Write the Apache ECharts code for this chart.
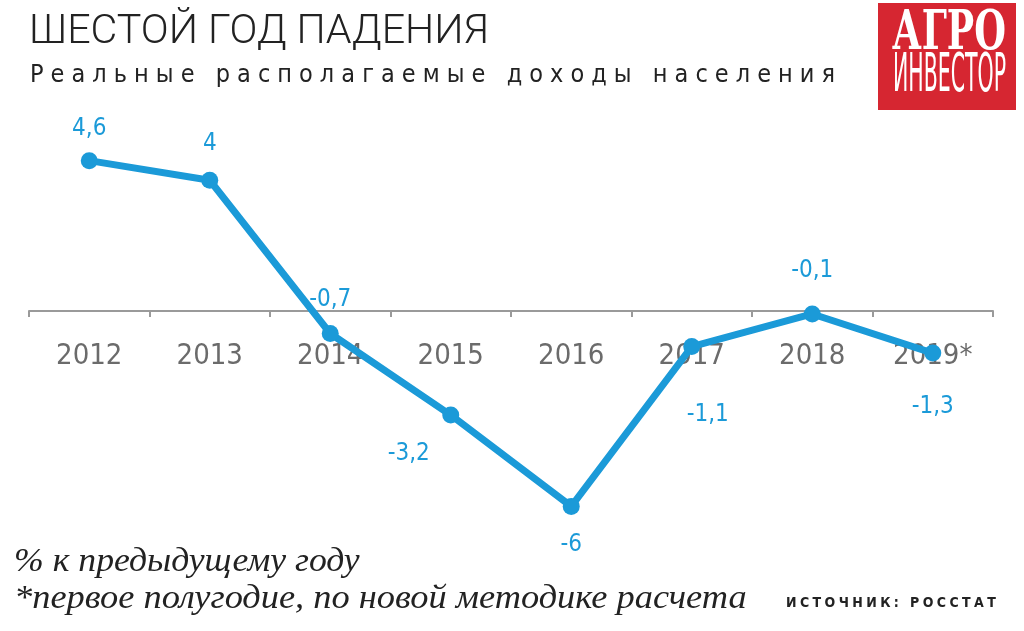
<!DOCTYPE html>
<html>
<head>
<meta charset="utf-8">
<script src="https://cdn.jsdelivr.net/npm/echarts@6/dist/echarts.min.js"></script>
<style>
  html, body { margin: 0; padding: 0; background: #fff; }
  #wrap { position: relative; width: 1024px; height: 631px; }
  #chart { width: 1024px; height: 631px; }
  .sub { position: absolute; left: 30px; top: 59px; font: 25px "DejaVu Sans Condensed", sans-serif; letter-spacing: 7.05px; color: #222; white-space: nowrap; }
  .src { position: absolute; left: 786px; top: 594px; font: bold 14px "DejaVu Sans Condensed", sans-serif; letter-spacing: 3.4px; color: #222; white-space: nowrap; }
</style>
</head>
<body>
<div id="wrap">
  <div id="chart"></div>
  <div class="sub">Реальные располагаемые доходы населения</div>
  <div class="src">ИСТОЧНИК: РОССТАТ</div>
</div>
<script>
// годы
var years = ['2012', '2013', '2014', '2015', '2016', '2017', '2018', '2019*'];
// реальные располагаемые доходы, % к предыдущему году
var incomes = [4.6, 4, -0.7, -3.2, -6, -1.1, -0.1, -1.3];

var blue = '#1b9ad8';
var condensed = '"DejaVu Sans Condensed", sans-serif';

// где стоит подпись у каждой точки
var labelSpots = [
    ['top', [0, -6]],
    ['top', [0, -11]],
    ['top', [0, -8]],
    ['bottom', [-42, 13]],
    ['bottom', [0, 13]],
    ['bottom', [16, 43]],
    ['top', [0, -18]],
    ['bottom', [0, 28]]
];

var points = incomes.map(function (v, i) {
    return {
        value: v,
        label: {position: labelSpots[i][0], offset: labelSpots[i][1]}
    };
});

var Chart = echarts.init(document.getElementById('chart'));
Chart.setOption({
    animation: false,
    grid: {
        left: 29,
        right: 31,
        top: 115,
        bottom: 92
    },
    xAxis: {
        type: 'category',
        data: years,
        boundaryGap: true,
        offset: -228,
        axisLine: {onZero: false, lineStyle: {color: '#9a9a9a', width: 2}},
        axisTick: {show: true, length: 6, lineStyle: {color: '#9a9a9a', width: 2}},
        axisLabel: {
            margin: 31,
            fontFamily: condensed,
            fontSize: 29,
            color: '#6b6b6b'
        },
        z: 1
    },
    yAxis: {
        type: 'value',
        min: -7,
        max: 6,
        show: false,
        splitLine: {show: false}
    },
    series: [
        {
            type: 'line',
            data: points,
            z: 5,
            symbol: 'circle',
            symbolSize: 17,
            lineStyle: {color: blue, width: 7},
            itemStyle: {color: blue},
            label: {
                show: true,
                fontFamily: condensed,
                fontSize: 24,
                color: blue,
                formatter: function (p) {
                    return String(p.value).replace('.', ',');
                }
            }
        }
    ],
    graphic: [
        // заголовок
        {
            type: 'text',
            x: 29,
            y: 13,
            scaleX: 1.03,
            style: {
                text: 'ШЕСТОЙ ГОД ПАДЕНИЯ',
                fill: '#222',
                font: '300 40px Roboto, sans-serif'
            }
        },
        // логотип
        {
            type: 'rect',
            left: 878,
            top: 3,
            shape: {width: 138, height: 107},
            style: {fill: '#d62631'}
        },
        {
            type: 'text',
            x: 892,
            y: 8,
            scaleX: 0.75,
            style: {
                text: 'АГРО',
                fill: '#fff',
                font: 'bold 54px "DejaVu Serif Condensed", "DejaVu Serif", serif'
            }
        },
        {
            type: 'text',
            x: 893,
            y: 51,
            scaleX: 0.43,
            style: {
                text: 'ИНВЕСТОР',
                fill: '#fff',
                font: '53px ' + condensed
            }
        },
        // сноски
        {
            type: 'text',
            x: 14,
            y: 545,
            scaleX: 1.05,
            style: {
                text: '% к предыдущему году',
                fill: '#222',
                font: 'italic 34px "Liberation Serif", "DejaVu Serif", serif'
            }
        },
        {
            type: 'text',
            x: 14,
            y: 582,
            scaleX: 1.07,
            style: {
                text: '*первое полугодие, по новой методике расчета',
                fill: '#222',
                font: 'italic 34px "Liberation Serif", "DejaVu Serif", serif'
            }
        }
    ]
});
</script>
</body>
</html>
